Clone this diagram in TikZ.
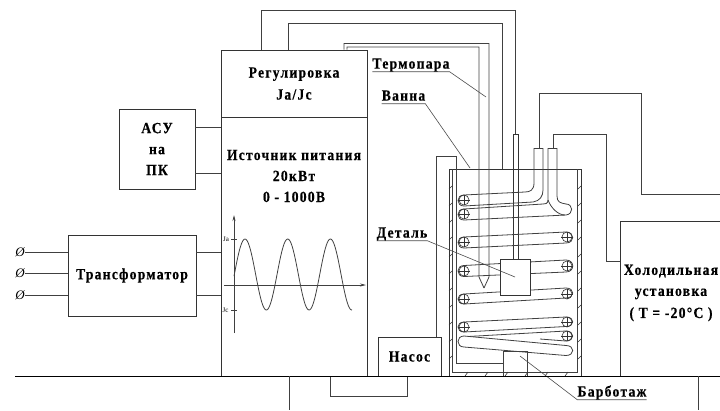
\documentclass[tikz,border=0pt]{standalone}
\usepackage{fontspec}
\setmainfont{Liberation Serif}[FakeStretch=0.88,LetterSpace=8,FakeBold=0.4]
\newfontfamily\plainfont{Liberation Serif}
\usetikzlibrary{positioning,arrows.meta}

\begin{document}
\begin{tikzpicture}[x=1pt, y=-1pt, font=\fontsize{15.5}{14}\selectfont\bfseries]
    \tikzstyle{box}=[draw=black!80, line width=0.8pt, inner sep=0pt, align=center]
    \tikzstyle{wire}=[draw=black!75, line width=0.8pt]
    \tikzstyle{thin}=[draw=black!80, line width=0.6pt]
    \tikzstyle{lead}=[draw=black!70, line width=0.6pt]
    \tikzstyle{lbl}=[inner sep=0pt, text depth=3pt, align=center]
    \tikzstyle{caption}=[inner sep=0pt, align=center]
    \tikzstyle{term}=[inner sep=0pt, font=\plainfont\fontsize{13}{14}\selectfont\itshape]
    \tikzstyle{tiny}=[inner sep=0pt, font=\plainfont\fontsize{7}{8}\selectfont]

    \useasboundingbox (0,0) rectangle (720,410);

    \node[box, minimum width=146pt, minimum height=326pt] (power) at (294,213) {};
    \node[box, minimum width=146pt, minimum height=67pt] (reg) at (294,83.5)
          {\raisebox{-2pt}{Регулировка}\\[8pt]\raisebox{-2pt}{Ja/Jc}};
    \node[caption] (src) at (294,176) {Источник питания\\[7pt]20кВт\\[7pt]0 - 1000В};
    \node[box, minimum width=76pt, minimum height=80pt] (asu) at (157,149)
          {\raisebox{-1pt}{АСУ}\\[7pt]\raisebox{-1pt}{на}\\[7pt]\raisebox{-1pt}{ПК}};
    \node[box, minimum width=128pt, minimum height=81pt] (tr) at (132,275.5) {Трансформатор};
    \node[box, minimum width=63pt, minimum height=39pt] (pump) at (409.5,356.5) {Насос};
    \node[box, minimum width=132pt, minimum height=207pt] (bath) at (515,272.5) {};
    \node[box, minimum width=120pt, minimum height=155pt, anchor=north west] (cold) at (620,221) {};
    \node[caption] (coldtxt) at (671,293) {Холодильная\\[7pt]установка\\[7pt]( T = -20°C )};

    \node[term] (ta) at (20,252) {Ø};
    \node[term] (tb) at (20,273) {Ø};
    \node[term] (tc) at (20,295) {Ø};
    \draw[wire] (ta.east) -- (ta -| tr.west);
    \draw[wire] (tb.east) -- (tb -| tr.west);
    \draw[wire] (tc.east) -- (tc -| tr.west);
    \draw[wire] (tr.east |- ta) -- (ta -| power.west);
    \draw[wire] (tr.east |- tc) -- (tc -| power.west);

    \coordinate (asua) at (195,127);
    \coordinate (asub) at (195,173);
    \draw[wire] (asua) -- (asua -| power.west);
    \draw[wire] (asub) -- (asub -| power.west);

    \node[box, minimum width=5pt, minimum height=125pt] (rod) at (515.5,196.5) {};
    \coordinate (wa) at (261,10);
    \coordinate (wb) at (288,23);
    \coordinate (wc) at (344,43.5);
    \coordinate (wd) at (347,47);
    \coordinate (tctip) at (484,288);
    \draw[wire] (power.north -| wa) -- (wa) -| (rod.north);
    \draw[wire] (power.north -| wb) -- (wb) -| (bath.north -| 502,0);
    \draw[wire] (power.north -| wc) -- (wc) -- (489,43.5) -- (489,277) -- (tctip);
    \draw[wire] (power.north -| wd) -- (wd) -- (479,47) -- (479,277) -- (tctip);

    \coordinate (stuba) at (539,148);
    \coordinate (stubb) at (553,148);
    \draw[wire] (stuba) -- (539,93) -- (641,93) -- (641,194) -- (720,194);
    \draw[wire] (stubb) -- (553,134) -- (606,134) -- (606,261) -- (cold.west |- 0,261);

    \coordinate (pipea) at (407,376);
    \coordinate (pipeb) at (330,376);
    \draw[wire] (pipea) -- (407,396) -- (330,396) -- (pipeb);

    \draw[wire] (436,337) -- (436,156) -- (456,156) -- (456,363) -- (503,363);
    \draw[wire] (452,169) -- (452,372) -- (577,372) -- (577,169);
    \draw[wire] (503,376) -- (503,351) -- (527,351) -- (527,376);
    \foreach \yy in {186,203,...,370} {
      \draw[thin] (452,\yy) -- (449,\yy+3);
      \draw[thin] (581,\yy) -- (578,\yy+3);
    }
    \foreach \xx in {465,485,...,575}
      \draw[thin] (\xx+3,372) -- (\xx,376);

    \draw[wire] (534,148) -- (543,148);
    \draw[wire] (548,148) -- (557,148);
    \draw[wire] (534,148) -- (534,183) .. controls (534,190) and (530,192) .. (525,192) -- (464,195)
        .. controls (456,195) and (456,206) .. (464,206) -- (533,202)
        .. controls (540,201) and (543,196) .. (543,190) -- (543,148);
    \draw[wire] (548,148) -- (548,200) .. controls (548,204) and (545,204) .. (543,204) -- (464,209)
        .. controls (456,209) and (456,220) .. (464,220) -- (566,215)
        .. controls (574,214) and (573,204) .. (566,204) .. controls (560,203) and (557,202) .. (557,196) -- (557,148);
    \draw[wire] (565,215) .. controls (558,215) and (551,208) .. (548,200);
    \foreach \ya/\yb/\yc/\yd in {237/232/248/243, 265.5/260/276.5/272, 294/288/304/298, 322/317/332/326.5} {
      \draw[wire] (464,\ya) -- (566,\yb) .. controls (575,\yb) and (575,\yd) .. (566,\yd)
          -- (464,\yc) .. controls (456,\yc) and (456,\ya) .. cycle;
    }
    \draw[wire] (468,336.5) -- (566,331) .. controls (575,331) and (575,341) .. (566,341) -- (540,339);
    \draw[wire] (464,336) -- (566,345.5) .. controls (575,345.5) and (575,355.5) .. (566,355.5)
        -- (464,347) .. controls (456,347) and (456,336) .. cycle;
    \foreach \xx/\yy in {464/200, 464/214, 464/242, 464/271, 464/299, 464/327,
                         567/237, 567/266, 567/294, 567/322, 567/336} {
      \draw[thin] (\xx,\yy) circle[radius=5pt];
      \draw[thin] (\xx-6,\yy) -- (\xx+6,\yy) (\xx,\yy-5) -- (\xx,\yy+5);
    }

    \node[box, fill=white, minimum width=30pt, minimum height=36pt] (part) at (515,277) {};

    \draw[wire, -{Stealth[length=6pt,width=3pt]}] (234,333) -- (234,215);
    \draw[wire, -{Stealth[length=6pt,width=3pt]}] (224,285) -- (366,285);
    \draw[wire] (231,239) -- (237,239);
    \draw[wire] (231,310) -- (237,310);
    \node[tiny] (ja) at (226,239) {Ja};
    \node[tiny] (jc) at (225.5,310) {Jc};
    \draw[wire, samples=130, domain=234:352, smooth] plot (\x,{274.5-35.5*cos((\x-245)*8.431)});

    \node[lbl] (tpl) at (411,65) {Термопара};
    \node[lbl] (bnl) at (403.5,97) {Ванна};
    \node[lbl] (dtl) at (402,234) {Деталь};
    \node[lbl] (bbl) at (612,392.5) {Барботаж};
    \coordinate (tpend) at (486,97);
    \coordinate (bnend) at (470,168);
    \coordinate (dtend) at (515,277);
    \coordinate (bbend) at (520,356);
    \draw[lead] (tpl.south west) -- (tpl.south east) -- (tpend);
    \draw[lead] (bnl.south west) -- (bnl.south east) -- (bnend);
    \draw[lead] (dtl.south west) -- (dtl.south east) -- (dtend);
    \draw[lead] (bbl.south east) -- (bbl.south west) -- (bbend);

    \draw[draw=black, line width=0.9pt] (15,376) -- (720,376);
    \draw[wire] (289,376) -- (289,410);
    \draw[wire] (698,376) -- (698,410);
  \end{tikzpicture}
\end{document}
